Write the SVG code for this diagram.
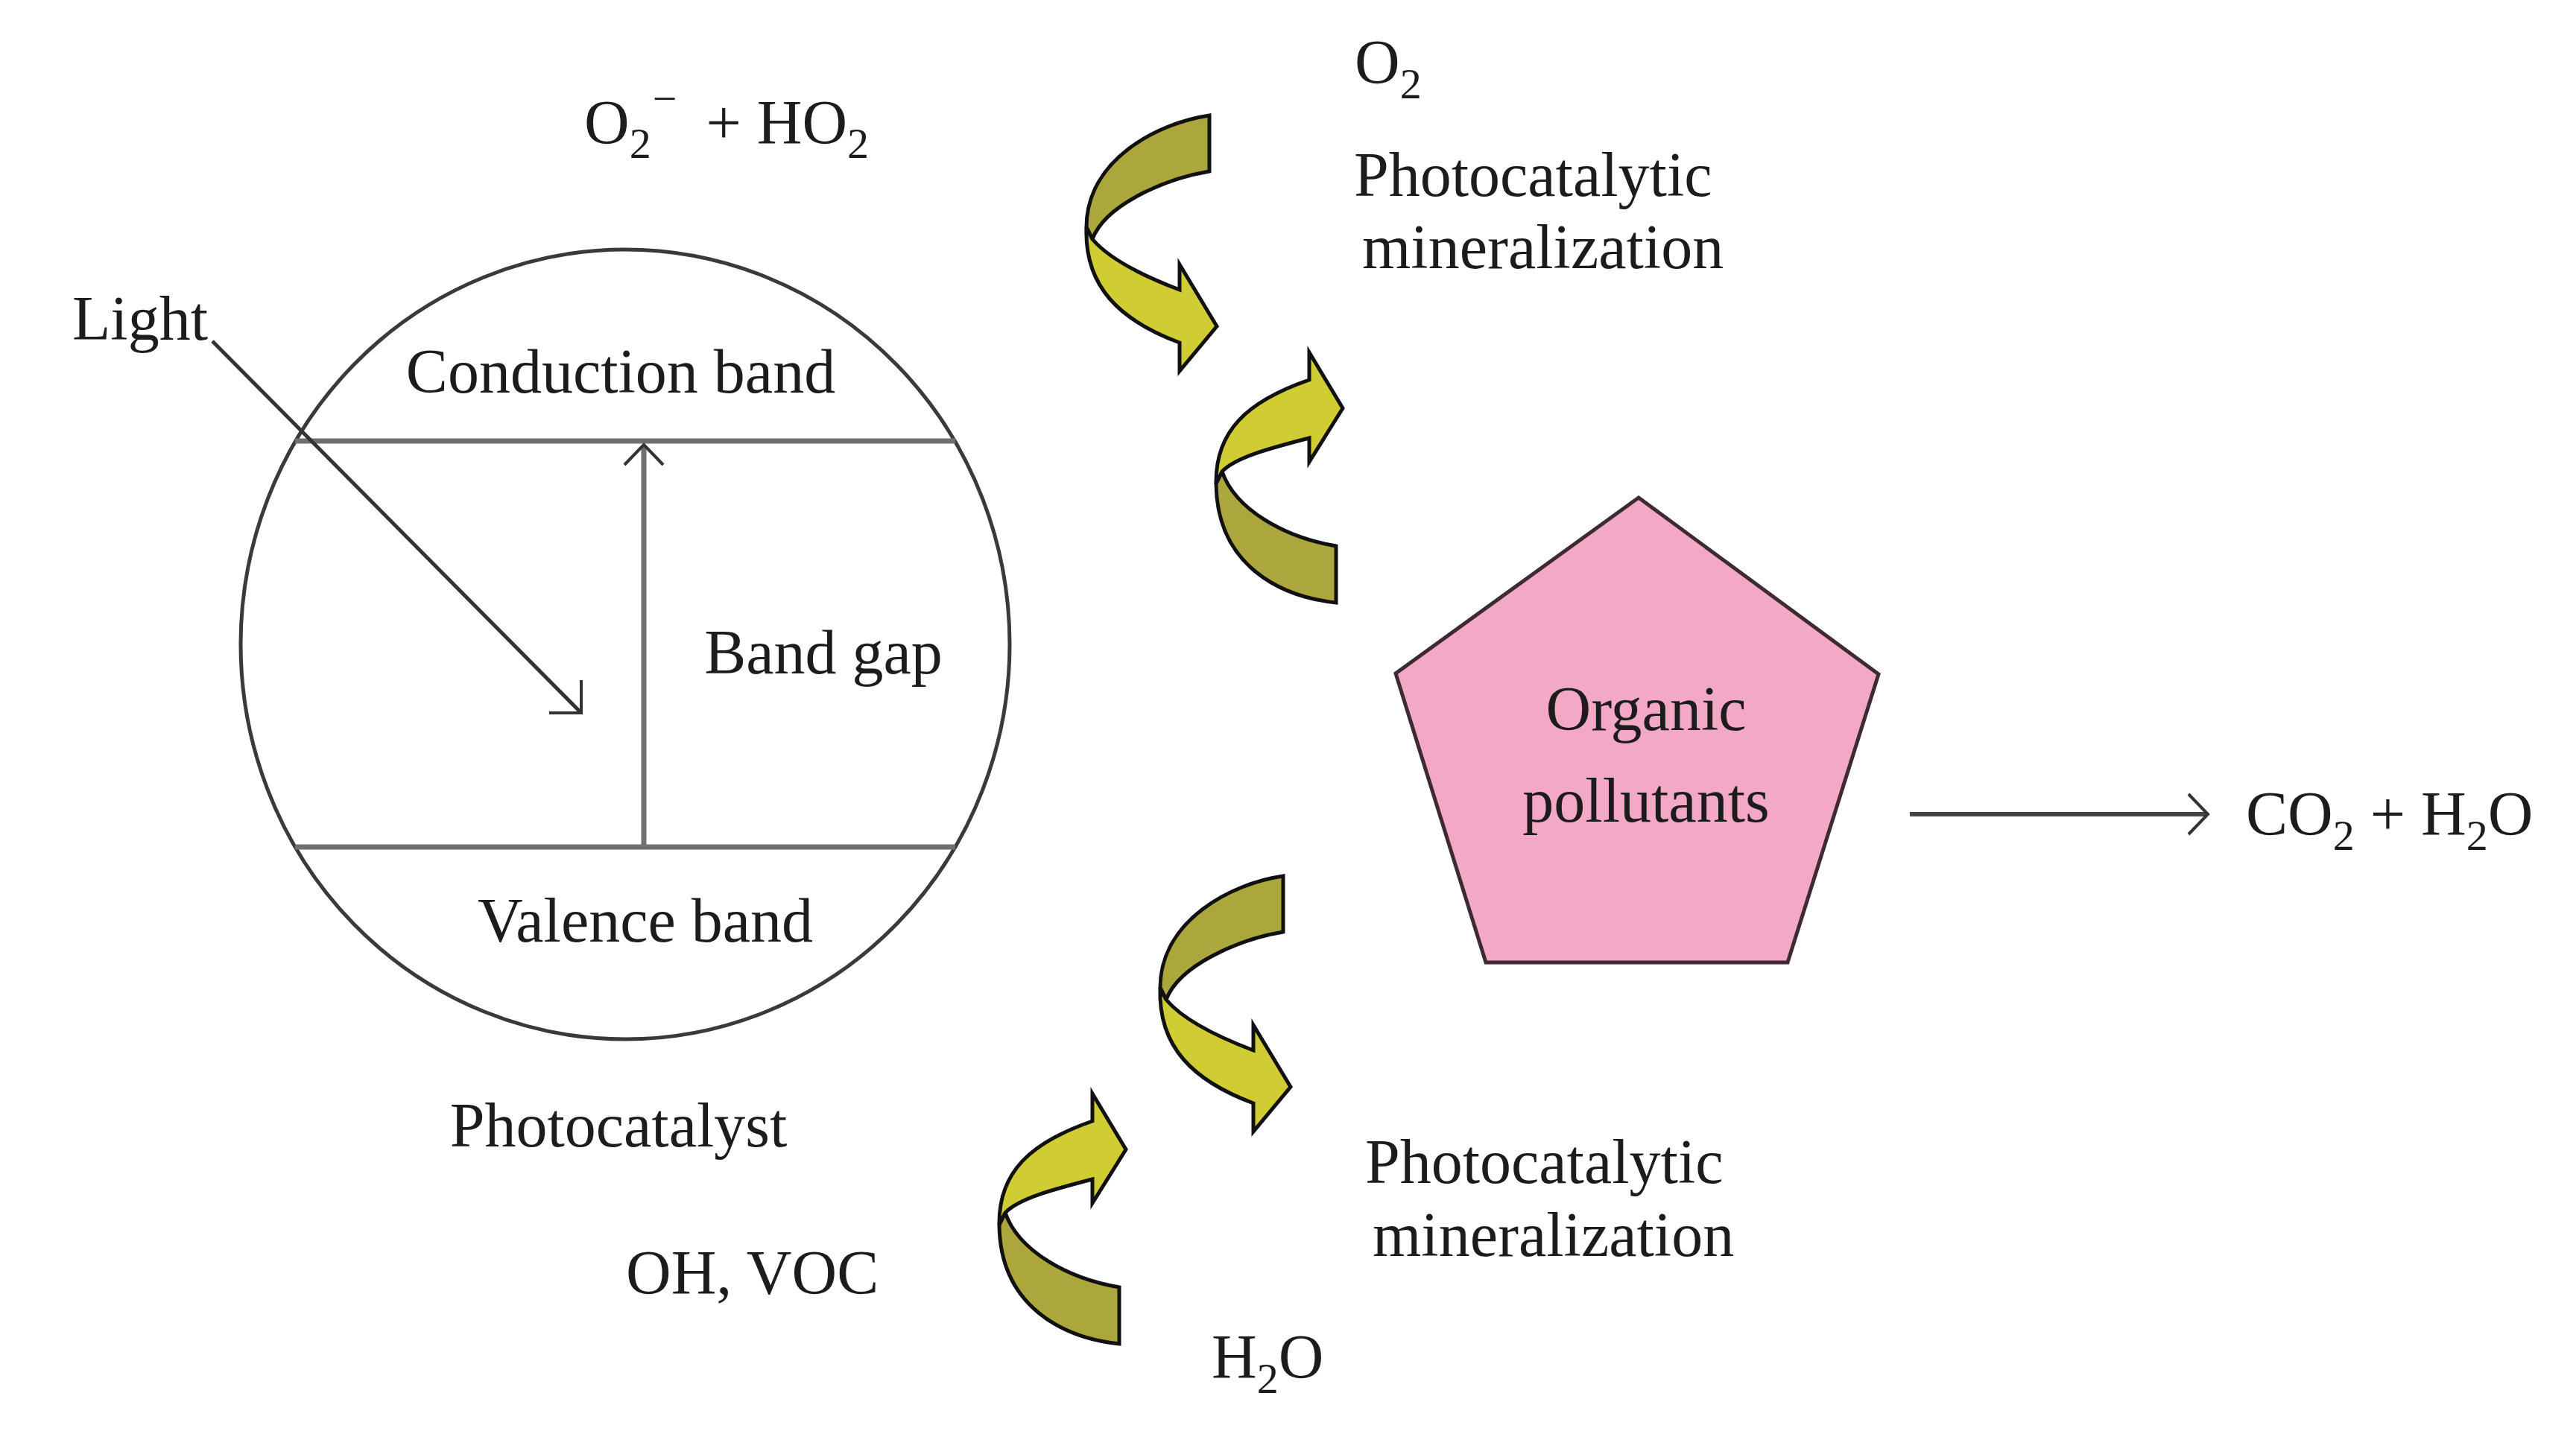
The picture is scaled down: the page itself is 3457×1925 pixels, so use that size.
<svg xmlns="http://www.w3.org/2000/svg" width="3457" height="1925" viewBox="0 0 3457 1925">
  <style>
    text { font-family: "Liberation Serif", "Times New Roman", serif; font-size: 84px; fill: #1e1b1c; }
    .mid { text-anchor: middle; }
    .sub { font-size: 58px; }
    .olive { fill: #aca73c; stroke: #111; stroke-width: 5; stroke-linejoin: miter; }
    .yellow { fill: #cfcd33; stroke: #111; stroke-width: 5; stroke-linejoin: miter; }
    .band { stroke: #707070; stroke-width: 7; fill: none; }
    .thin { stroke: #333; stroke-width: 4; fill: none; }
  </style>
  <defs>
    <g id="curlDown">
      <path class="olive" d="M0,0 C-70,10 -165,60 -165,150 L-157,166 C-140,120 -60,85 0,75 Z"/>
      <path class="yellow" d="M-165,150 C-168,230 -120,275 -40,305 L-40,343 L10,283 L-40,200 L-40,234 C-90,215 -135,192 -157,166 Z"/>
    </g>
    <g id="curlUp">
      <path class="olive" d="M0,0 C-75,-8 -160,-50 -161,-160 L-153,-176 C-135,-125 -70,-88 0,-76 Z"/>
      <path class="yellow" d="M-161,-160 C-162,-230 -120,-270 -36,-299 L-36,-336 L9,-261 L-36,-189 L-36,-221 C-90,-207 -135,-195 -153,-176 Z"/>
    </g>
  </defs>
  <rect width="3457" height="1925" fill="#ffffff"/>

  <g id="photocatalyst">
    <ellipse cx="839" cy="865" rx="516" ry="530" fill="none" stroke="#3a3a3a" stroke-width="5"/>
    <line class="band" x1="396" y1="592" x2="1282" y2="592"/>
    <line class="band" x1="396" y1="1137" x2="1282" y2="1137"/>
    <text class="mid" x="833" y="527">Conduction band</text>
    <text class="mid" x="1105" y="904">Band gap</text>
    <text class="mid" x="866" y="1264">Valence band</text>
    <text class="mid" x="830" y="1539">Photocatalyst</text>
  </g>

  <g id="light">
    <text x="97" y="456">Light</text>
  </g>

  <g id="pollutants">
    <polygon points="2199,668 2521,905 2399,1292 1994,1292 1873,904" fill="#f3a9c5" stroke="#3e2a32" stroke-width="5"/>
    <text class="mid" x="2209" y="980">Organic</text>
    <text class="mid" x="2209" y="1103">pollutants</text>
  </g>

  <g id="labels">
    <text x="784" y="193">O<tspan class="sub" dy="19">2</tspan><tspan class="sub" dx="2" dy="-60">−</tspan><tspan dx="18" dy="41"> + HO</tspan><tspan class="sub" dy="19">2</tspan></text>
    <text x="1818" y="112">O<tspan class="sub" dy="20">2</tspan></text>
    <text x="1817" y="263">Photocatalytic</text>
    <text x="1828" y="360">mineralization</text>
    <text x="1832" y="1588">Photocatalytic</text>
    <text x="1842" y="1686">mineralization</text>
    <text x="840" y="1737">OH, VOC</text>
    <text x="1626" y="1850">H<tspan class="sub" dy="20">2</tspan><tspan dy="-20">O</tspan></text>
    <text x="3014" y="1121">CO<tspan class="sub" dy="20">2</tspan><tspan dy="-20"> + H</tspan><tspan class="sub" dy="20">2</tspan><tspan dy="-20">O</tspan></text>
  </g>

  <g id="curl-arrows">
    <use href="#curlDown" transform="translate(1623,155)"/>
    <use href="#curlUp" transform="translate(1793,809)"/>
    <use href="#curlDown" transform="translate(1722,1176)"/>
    <use href="#curlUp" transform="translate(1502,1804)"/>
  </g>

  <g id="connectors">
    <line x1="285" y1="458" x2="780" y2="957" stroke="#333" stroke-width="5"/>
    <polyline class="thin" points="780,913 780,957 737,957"/>
    <line x1="864" y1="1137" x2="864" y2="598" stroke="#707070" stroke-width="7"/>
    <polyline class="thin" points="838,624 864,597 890,624"/>
    <line x1="2563" y1="1093" x2="2960" y2="1093" stroke="#444" stroke-width="6"/>
    <polyline class="thin" points="2937,1066 2963,1093 2937,1120"/>
  </g>
</svg>
